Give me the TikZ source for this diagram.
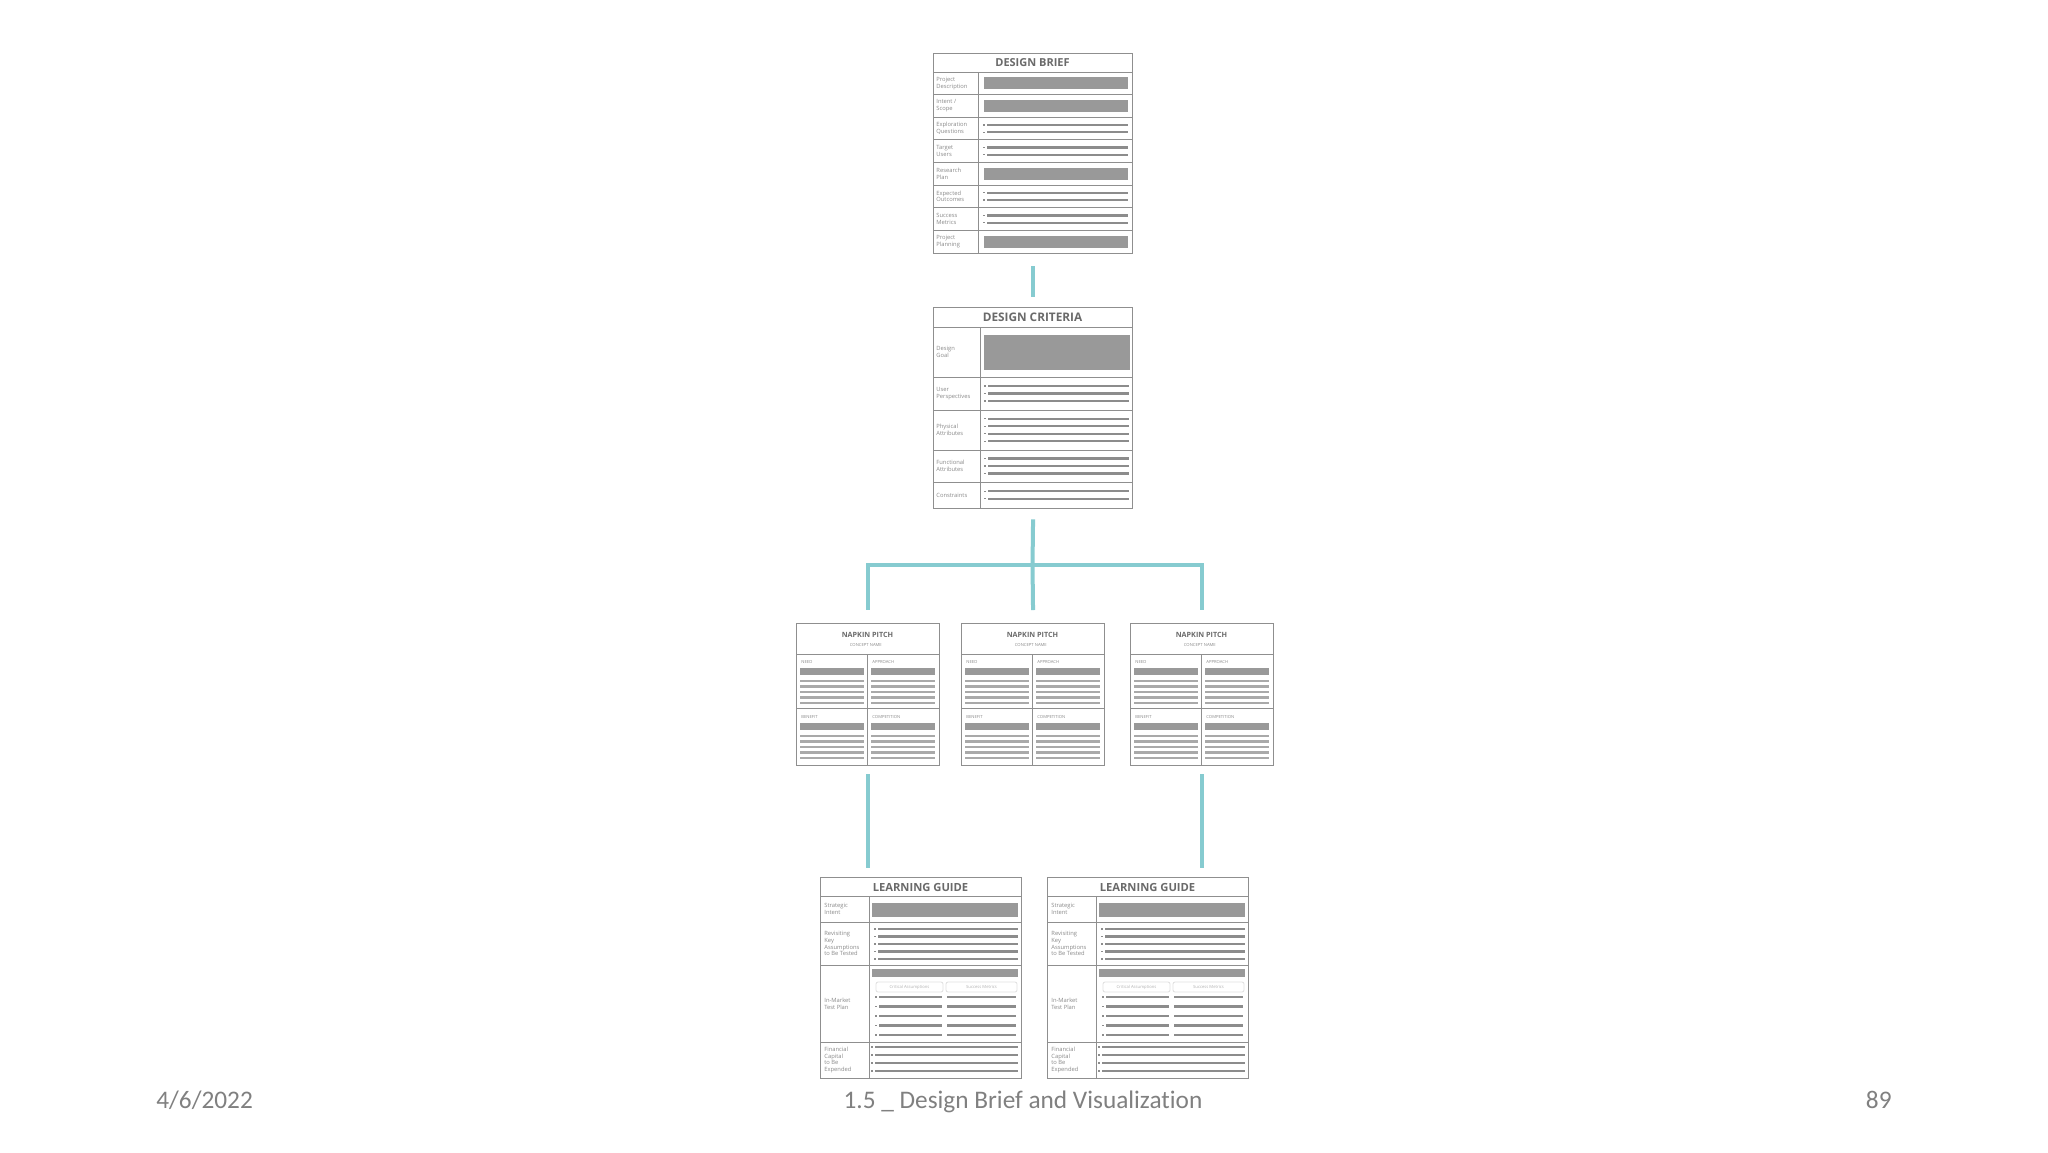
\documentclass[tikz,border=0pt]{standalone}
\usepackage{fontspec}
\setmainfont[Ligatures=NoCommon]{Carlito}
\newfontfamily\formfont{Open Sans}
\usetikzlibrary{calc}
\definecolor{framec}{HTML}{8F8F8F}
\definecolor{barc}{HTML}{999999}
\definecolor{linec}{HTML}{8C8C8C}
\definecolor{lightlc}{HTML}{A9A9A9}
\definecolor{connc}{HTML}{86CBD0}
\definecolor{titlec}{HTML}{6A6A6A}
\definecolor{lblc}{HTML}{8A8A8A}
\definecolor{footc}{HTML}{808080}
\tikzset{
  form/.style={draw=framec, line width=0.7pt, fill=white, rectangle, inner sep=0pt, anchor=north west},
  rulel/.style={draw=framec, line width=0.5pt},
  barf/.style={fill=barc},
  lnf/.style={draw=linec, line width=1.2pt},
  lnl/.style={draw=lightlc, line width=1.3pt},
  conn/.style={draw=connc, line width=2pt},
  ttl/.style={font=\formfont\bfseries\fontsize{5.5}{6}\selectfont, text=titlec, inner sep=0pt},
  lbl/.style={font=\formfont\fontsize{2.9}{3.4}\selectfont, text=lblc, align=left, anchor=west, inner sep=0pt},
  qlbl/.style={font=\formfont\fontsize{2.1}{2.4}\selectfont, text=lblc, anchor=west, inner sep=0pt},
  foot/.style={font=\fontsize{12.65}{15}\selectfont, text=footc, inner sep=0pt}
}
% line with small bullet: x1, x2, y
\newcommand\FLine[3]{\draw[lnf] (#1,#3) -- (#2,#3); \fill[linec] (#1-4,#3-0.6) rectangle (#1-2.4,#3+0.6);}
\newcommand\NapkinBox[2]{%
  \node[form, minimum width=71.5pt, minimum height=71pt] (#1) at (#2,623) {};
  \draw[rulel] (#2,654) -- (#2+143,654);
  \draw[rulel] (#2+71.5,654) -- (#2+71.5,765);
  \draw[rulel] (#2,708) -- (#2+143,708);
  \node[ttl, font=\formfont\bfseries\fontsize{3.6}{4}\selectfont] (#1t) at (#2+71.5,635) {NAPKIN PITCH};
  \node[qlbl] (#1c) at (#2+71.5-18,645) {CONCEPT NAME};
  \node[qlbl] (#1a) at (#2+5,662) {NEED};
  \node[qlbl] (#1b) at (#2+76,662) {APPROACH};
  \node[qlbl] (#1d) at (#2+5,717) {BENEFIT};
  \node[qlbl] (#1e) at (#2+76,717) {COMPETITION};
  \fill[barc] (#2+4,668) rectangle (#2+68,675);
  \fill[barc] (#2+75,668) rectangle (#2+139,675);
  \fill[barc] (#2+4,723) rectangle (#2+68,730);
  \fill[barc] (#2+75,723) rectangle (#2+139,730);
  \foreach \yy in {681,686.5,692,697.5,703,736,741.5,747,752.5,758}{
    \draw[lnl] (#2+4,\yy) -- (#2+68,\yy);
    \draw[lnl] (#2+75,\yy) -- (#2+139,\yy);
  }
}
\newcommand\GuideBox[2]{%
  \node[form, minimum width=100.5pt, minimum height=100.5pt] (#1) at (#2,877) {};
  \draw[rulel] (#2,896) -- (#2+201,896);
  \draw[rulel] (#2+49,896) -- (#2+49,1078);
  \draw[rulel] (#2,922) -- (#2+201,922);
  \draw[rulel] (#2,965) -- (#2+201,965);
  \draw[rulel] (#2,1042) -- (#2+201,1042);
  \node[ttl, font=\formfont\bfseries\fontsize{5.6}{6}\selectfont] (#1t) at (#2+100.5,887) {LEARNING GUIDE};
  \node[lbl] (#1l1) at (#2+4,909) {Strategic\\Intent};
  \node[lbl] (#1l2) at (#2+4,943.5) {Revisiting\\Key\\Assumptions\\to Be Tested};
  \node[lbl] (#1l3) at (#2+4,1003.5) {In-Market\\Test Plan};
  \node[lbl] (#1l4) at (#2+4,1060) {Financial\\Capital\\to Be\\Expended};
  \fill[barc] (#2+52,903) rectangle (#2+198,917);
  \foreach \yy in {929,936.5,944,951.5,959}{\FLine{#2+58}{#2+198}{\yy}}
  \fill[barc] (#2+52,969) rectangle (#2+198,977);
  \draw[draw=black!12, line width=0.4pt, rounded corners=1pt] (#2+56,982) rectangle (#2+123,992);
  \draw[draw=black!12, line width=0.4pt, rounded corners=1pt] (#2+126,982) rectangle (#2+197,992);
  \node[qlbl, text=black!30, anchor=center] (#1s1) at (#2+89.5,987) {Critical Assumptions};
  \node[qlbl, text=black!30, anchor=center] (#1s2) at (#2+161.5,987) {Success Metrics};
  \foreach \yy in {997,1006.5,1016,1025.5,1035}{
    \FLine{#2+59}{#2+122}{\yy}
    \draw[lnf] (#2+127,\yy) -- (#2+196,\yy);
  }
  \foreach \yy in {1047,1055,1063,1071}{\FLine{#2+55}{#2+198}{\yy}}
}
\begin{document}
\begin{tikzpicture}[x=0.5pt,y=-0.5pt]
\fill[white] (0,0) rectangle (2048,1152);
\useasboundingbox (0,0) rectangle (2048,1152);

% ---------- DESIGN BRIEF ----------
\node[form, minimum width=99.5pt, minimum height=100pt] (DB) at (933,53) {};
\draw[rulel] (933,72) -- (1132,72);
\draw[rulel] (978,72) -- (978,253);
\foreach \i in {1,...,7}{\draw[rulel] (933,72+22.625*\i) -- (1132,72+22.625*\i);}
\node[ttl] (DBt) at (1032.5,63) {DESIGN BRIEF};
\node[lbl] (DB1) at (936,83.3) {Project\\Description};
\node[lbl] (DB2) at (936,106) {Intent /\\Scope};
\node[lbl] (DB3) at (936,128.6) {Exploration\\Questions};
\node[lbl] (DB4) at (936,151.2) {Target\\Users};
\node[lbl] (DB5) at (936,173.8) {Research\\Plan};
\node[lbl] (DB6) at (936,196.4) {Expected\\Outcomes};
\node[lbl] (DB7) at (936,219.1) {Success\\Metrics};
\node[lbl] (DB8) at (936,241.7) {Project\\Planning};
\fill[barc] (984,77.3) rectangle (1128,89.3);
\fill[barc] (984,100) rectangle (1128,112);
\foreach \c in {128.6,151.2,196.4,219.1}{\FLine{987}{1128}{\c-3.6}\FLine{987}{1128}{\c+3.6}}
\fill[barc] (984,167.8) rectangle (1128,179.8);
\fill[barc] (984,235.7) rectangle (1128,247.7);

% ---------- DESIGN CRITERIA ----------
\node[form, minimum width=99.5pt, minimum height=100.5pt] (DC) at (933,307) {};
\draw[rulel] (933,327) -- (1132,327);
\draw[rulel] (980,327) -- (980,508);
\foreach \yy in {377,410,450,482}{\draw[rulel] (933,\yy) -- (1132,\yy);}
\node[ttl, font=\formfont\bfseries\fontsize{5.9}{6}\selectfont] (DCt) at (1032.5,317) {DESIGN CRITERIA};
\node[lbl] (DC1) at (936,352) {Design\\Goal};
\node[lbl] (DC2) at (936,393.5) {User\\Perspectives};
\node[lbl] (DC3) at (936,430) {Physical\\Attributes};
\node[lbl] (DC4) at (936,466) {Functional\\Attributes};
\node[lbl] (DC5) at (936,495) {Constraints};
\fill[barc] (984,335) rectangle (1130,370);
\foreach \yy in {386,393.5,401,418.75,426.25,433.75,441.25,458.5,466,473.5,491.25,498.75}{\FLine{988}{1129}{\yy}}

% ---------- NAPKIN PITCHES ----------
\NapkinBox{NPa}{796}
\NapkinBox{NPb}{961}
\NapkinBox{NPc}{1130}

% ---------- LEARNING GUIDES ----------
\GuideBox{LGa}{820}
\GuideBox{LGb}{1047}

% ---------- CONNECTORS ----------
\draw[conn, shorten <=6pt, shorten >=5pt] (DB.south) -- (DC.north);
\coordinate (J) at (1032.5,565);
\draw[conn, shorten <=5pt] (DC.south) -- (J);
\draw[conn, shorten >=6.5pt] (J) -| (NPa.north);
\draw[conn, shorten >=6.5pt] (J) -| (NPc.north);
\draw[conn, shorten >=6.5pt] (J) -- (NPb.north);
\draw[conn, shorten <=4pt, shorten >=4.5pt] (NPa.south) -- (NPa.south |- LGa.north);
\draw[conn, shorten <=4pt, shorten >=4.5pt] (NPc.south) -- (NPc.south |- LGb.north);

% ---------- FOOTER ----------
\node[foot, anchor=base west] (fdate) at (156,1108) {4/6/2022};
\node[foot, anchor=base] (ftitle) at (1023,1108) {1.5 \_ Design Brief and Visualization};
\node[foot, anchor=base east] (fnum) at (1892,1108) {89};
\end{tikzpicture}
\end{document}
